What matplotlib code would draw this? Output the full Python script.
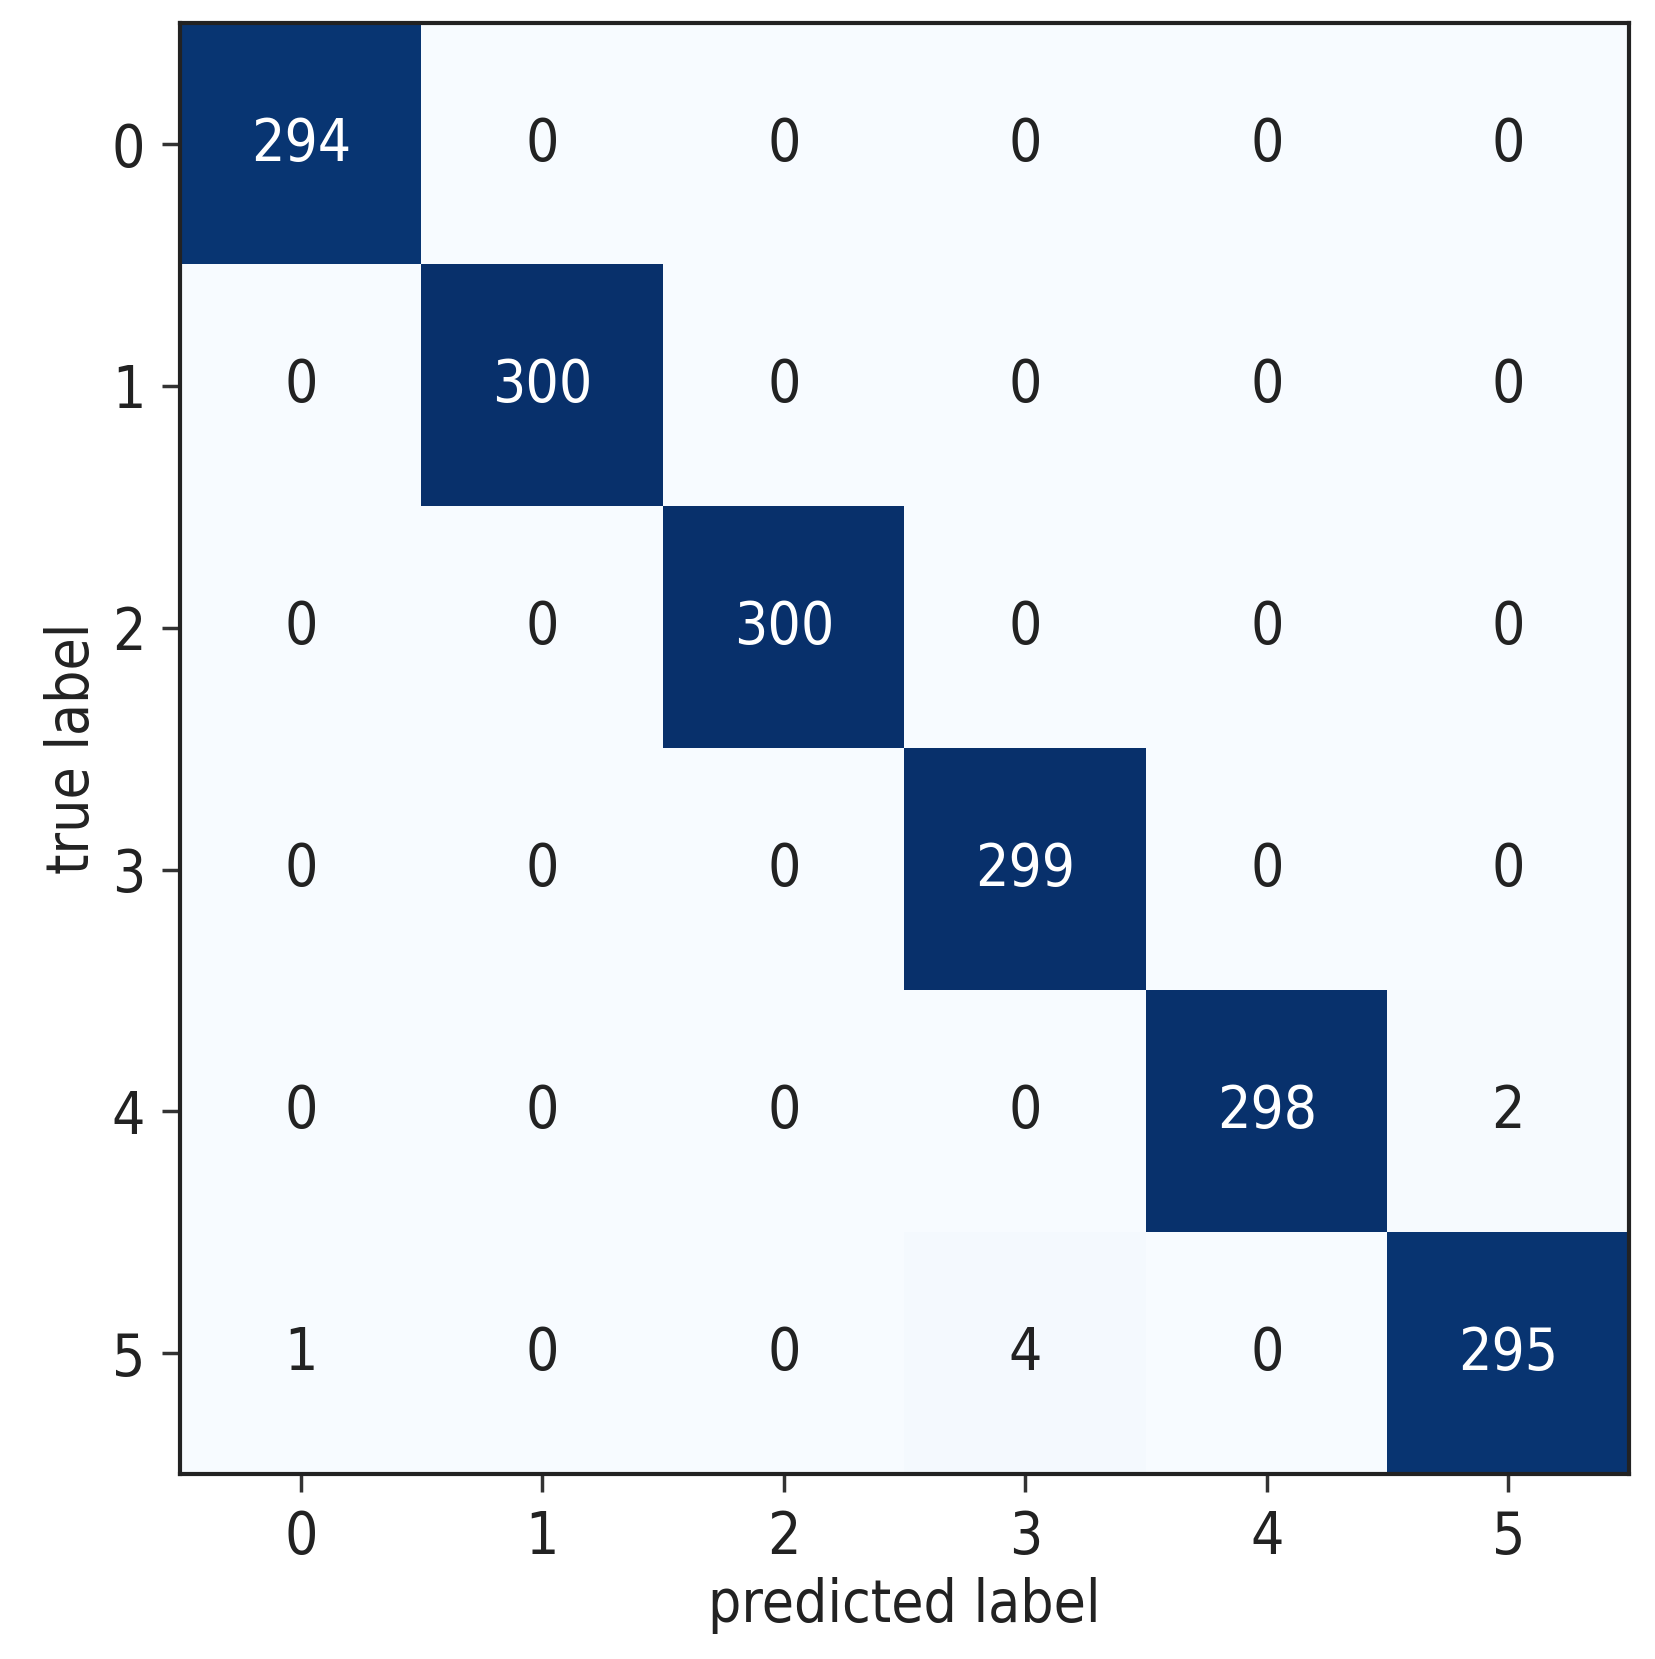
import matplotlib
matplotlib.use("Agg")
import matplotlib.pyplot as plt
from matplotlib import font_manager
import numpy as np

classes = ["0", "1", "2", "3", "4", "5"]
row0 = [294, 0, 0, 0, 0, 0]
row1 = [0, 300, 0, 0, 0, 0]
row2 = [0, 0, 300, 0, 0, 0]
row3 = [0, 0, 0, 299, 0, 0]
row4 = [0, 0, 0, 0, 298, 2]
row5 = [1, 0, 0, 4, 0, 295]

cm = np.array([row0, row1, row2, row3, row4, row5])

names = {f.name for f in font_manager.fontManager.ttflist}
cond = [f for f in font_manager.fontManager.ttflist if "Condensed" in f.fname and "DejaVuSans" in f.fname and "Bold" not in f.fname and "Oblique" not in f.fname]
print("condensed:", [c.fname for c in cond], [ (c.name, c.stretch) for c in cond])

fs = 42
if cond:
    fp = font_manager.FontProperties(fname=cond[0].fname, size=fs)
else:
    fp = font_manager.FontProperties(family="DejaVu Sans", size=fs)

fig = plt.figure(figsize=(16.56, 16.59), dpi=100)
ax = fig.add_axes([0.1087, 0.1115, 0.8750, 0.8745])
ax.imshow(cm, cmap="Blues", interpolation="nearest", aspect="auto")

for i in range(cm.shape[0]):
    for j in range(cm.shape[1]):
        v = cm[i, j]
        ax.text(j, i, str(v), ha="center", va="center", fontproperties=fp,
                color="white" if v > cm.max() / 2 else "#222222")

ax.set_xticks(range(len(classes)))
ax.set_yticks(range(len(classes)))
ax.set_xticklabels(classes, fontproperties=fp, color="#222222")
ax.set_yticklabels(classes, fontproperties=fp, color="#222222")
ax.tick_params(length=13, width=2.5, pad=12, color="#333333")
for s in ax.spines.values():
    s.set_linewidth(3)
    s.set_color("#222222")
ax.set_xlabel("predicted label", fontproperties=fp, color="#222222", labelpad=8)
ax.set_ylabel("true label", fontproperties=fp, color="#222222", labelpad=8)

fig.savefig("out.png", dpi=100)
